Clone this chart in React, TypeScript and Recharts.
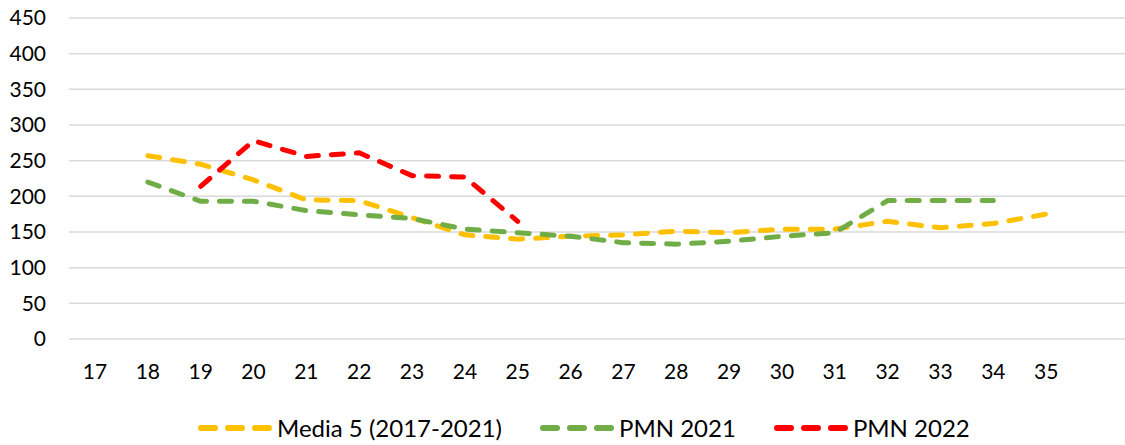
import { CartesianGrid, Line, LineChart, XAxis, YAxis } from "recharts";

// settimane (l'ultima categoria è vuota, come nel grafico originale)
const weeks = ["17", "18", "19", "20", "21", "22", "23", "24", "25", "26", "27", "28", "29", "30", "31", "32", "33", "34", "35", ""];

const media5: Array<number | null> = [null, 257, 245, 223, 195, 194, 170, 146, 140, 144, 146, 151, 149, 154, 154, 165, 156, 162, 175, null];
const pmn2021: Array<number | null> = [null, 220, 193, 193, 180, 174, 169, 154, 149, 144, 135, 133, 137, 144, 149, 194, 194, 194, null, null];
const pmn2022: Array<number | null> = [null, null, 214, 278, 256, 261, 229, 227, 165, null, null, null, null, null, null, null, null, null, null, null];

const yTicks = [0, 50, 100, 150, 200, 250, 300, 350, 400, 450];

const SERIES = [
	{ key: "media5", name: "Media 5 (2017-2021)", color: "#FFC000" },
	{ key: "pmn2021", name: "PMN 2021", color: "#70AD47" },
	{ key: "pmn2022", name: "PMN 2022", color: "#FF0000" },
];

const FONT = "Lato, 'Noto Sans', sans-serif";

const data = weeks.map((week, i) => ({
	week,
	media5: media5[i],
	pmn2021: pmn2021[i],
	pmn2022: pmn2022[i],
}));

function LegendIcon({ color }: { color: string }) {
	return (
		<svg width={74} height={8} style={{ display: "block" }}>
			<line
				x1={3}
				y1={4}
				x2={71}
				y2={4}
				stroke={color}
				strokeWidth={6}
				strokeLinecap="round"
				strokeDasharray="14 13"
			/>
		</svg>
	);
}

// legenda in basso, fuori dal grafico
function ChartLegend() {
	return (
		<div
			style={{
				position: "absolute",
				left: 198,
				top: 413,
				height: 29,
				lineHeight: "29px",
				display: "flex",
				alignItems: "center",
				fontFamily: FONT,
				fontSize: 24,
				color: "#000",
				whiteSpace: "nowrap",
			}}
		>
			{SERIES.map((s, i) => (
				<div key={s.key} style={{ display: "flex", alignItems: "center", marginLeft: i === 0 ? 0 : 38 }}>
					<LegendIcon color={s.color} />
					<span style={{ marginLeft: 5 }}>{s.name}</span>
				</div>
			))}
		</div>
	);
}

export default function App() {
	return (
		<>
			<style>{"body { margin: 0; }"}</style>
			<div style={{ position: "relative", background: "#fff", width: 1125, height: 445 }}>
				<LineChart
					width={1125}
					height={445}
					data={data}
					margin={{ top: 18, right: 0, left: 0, bottom: 66 }}
				>
					<CartesianGrid vertical={false} stroke="#D9D9D9" strokeWidth={1.5} />
					<XAxis
						dataKey="week"
						axisLine={false}
						tickLine={false}
						tickSize={0}
						tickMargin={25}
						height={40}
						interval={0}
						padding={{ left: 26, right: 26 }}
						tick={{ fill: "#000", fontSize: 21, fontFamily: FONT }}
					/>
					<YAxis
						domain={[0, 450]}
						ticks={yTicks}
						axisLine={false}
						tickLine={false}
						tickSize={0}
						tickMargin={23}
						width={69}
						interval={0}
						tick={{ fill: "#000", fontSize: 21, fontFamily: FONT }}
					/>
					{SERIES.map((s) => (
						<Line
							key={s.key}
							type="linear"
							dataKey={s.key}
							name={s.name}
							stroke={s.color}
							strokeWidth={5}
							strokeDasharray="12 13"
							strokeLinecap="round"
							strokeLinejoin="round"
							dot={false}
							activeDot={false}
							isAnimationActive={false}
						/>
					))}
				</LineChart>
				<ChartLegend />
			</div>
		</>
	);
}
